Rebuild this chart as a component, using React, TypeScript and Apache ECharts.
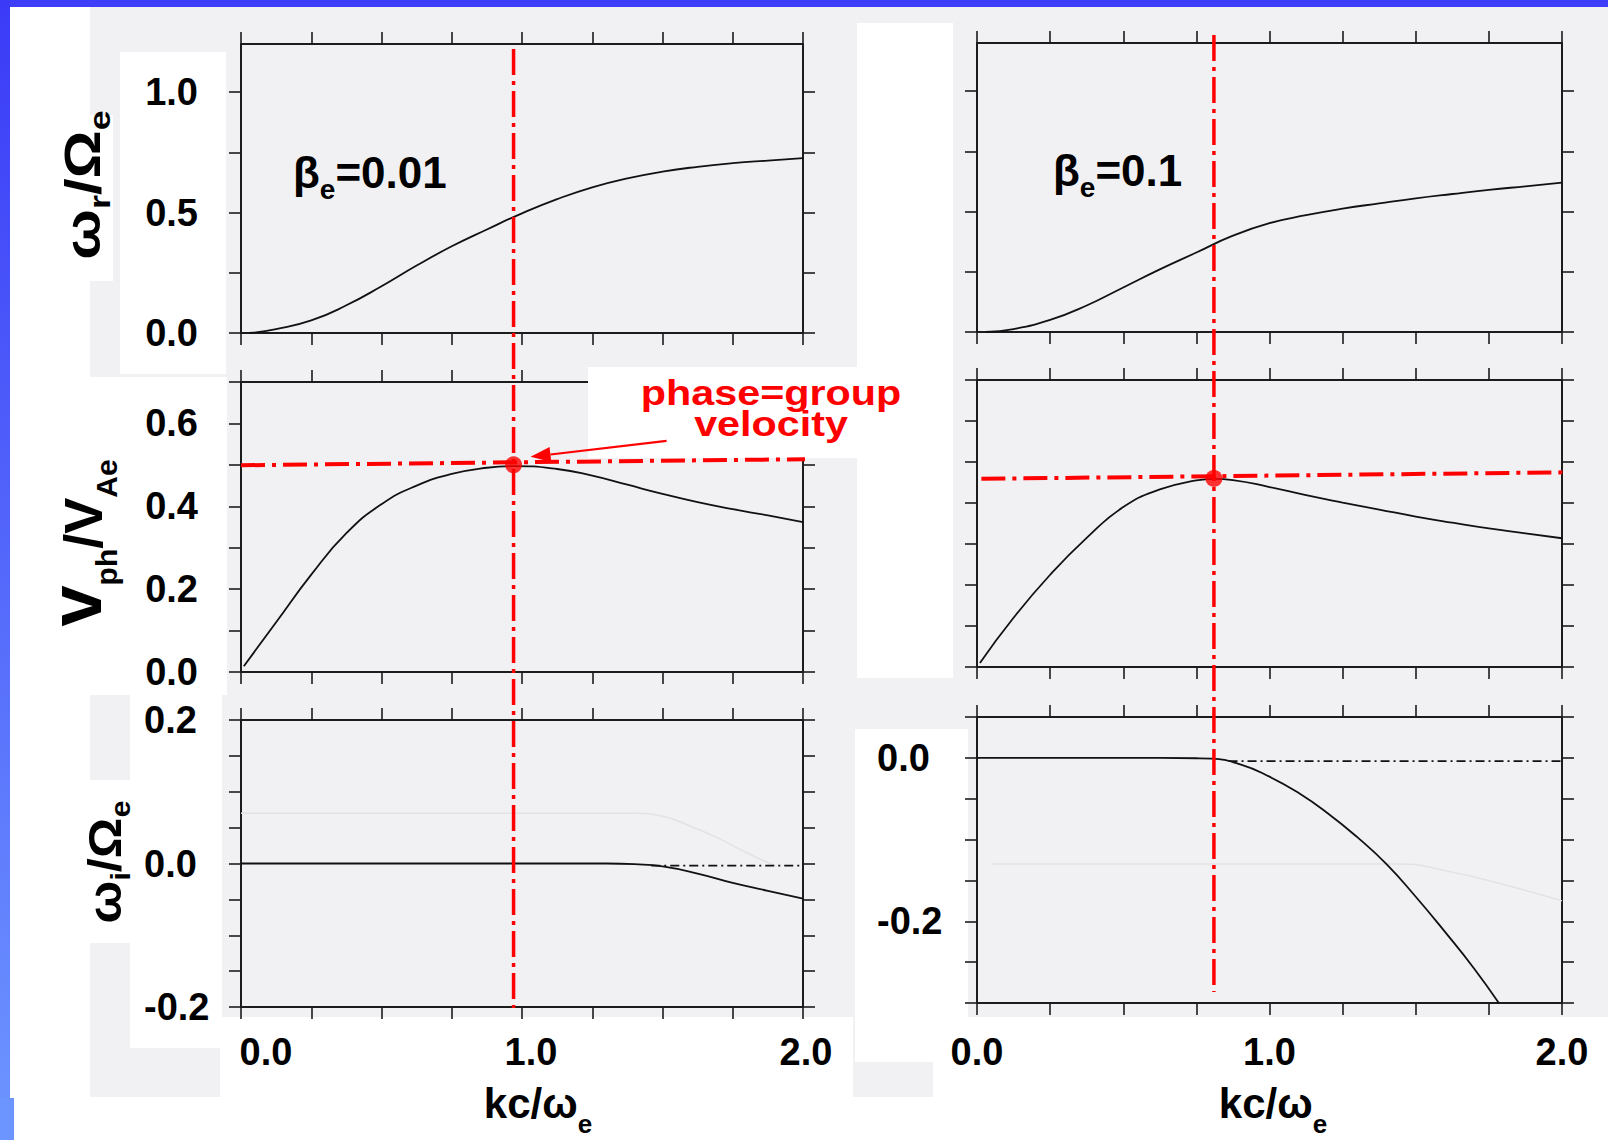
import React, { useEffect, useRef } from "react";
import * as echarts from "echarts";

const FONT = "'Liberation Sans', Arial, Helvetica, sans-serif";

// ---------- data ----------
const xLabelValues = [0, 1, 2];
const yLabelsTop = [0, 0.5, 1.0];
const yLabelsMid = [0, 0.2, 0.4, 0.6];
const yLabelsBotLeft = [-0.2, 0, 0.2];
const yLabelsBotRight = [-0.2, 0];
const ticksTop = [0, 0.25, 0.5, 0.75, 1.0];

const betaLeft = "0.01";
const betaRight = "0.1";

// omega_r / Omega_e
const omegaR_b001: [number, number][] = [
  [0.03, 0], [0.125, 0.016], [0.25, 0.052], [0.375, 0.115], [0.5, 0.194], [0.625, 0.28],
  [0.75, 0.36], [0.875, 0.43], [1.0, 0.497], [1.125, 0.556], [1.25, 0.605], [1.375, 0.642],
  [1.5, 0.67], [1.625, 0.69], [1.75, 0.705], [1.875, 0.716], [2.0, 0.726],
];
const omegaR_b01: [number, number][] = [
  [0.03, 0], [0.125, 0.012], [0.25, 0.05], [0.375, 0.11], [0.5, 0.185], [0.625, 0.26],
  [0.75, 0.33], [0.875, 0.4], [1.0, 0.452], [1.125, 0.485], [1.25, 0.512], [1.375, 0.534],
  [1.5, 0.555], [1.625, 0.573], [1.75, 0.59], [1.875, 0.605], [2.0, 0.62],
];
// v_ph / V_Ae
const vph_b001: [number, number][] = [
  [0.01, 0.014], [0.125, 0.12], [0.25, 0.235], [0.375, 0.335], [0.5, 0.405], [0.625, 0.45],
  [0.75, 0.478], [0.875, 0.493], [0.97, 0.497], [1.125, 0.49], [1.25, 0.474], [1.375, 0.452],
  [1.5, 0.43], [1.625, 0.41], [1.75, 0.393], [1.875, 0.378], [2.0, 0.362],
];
const vph_b01: [number, number][] = [
  [0.01, 0.01], [0.125, 0.12], [0.25, 0.225], [0.375, 0.315], [0.5, 0.39], [0.625, 0.433],
  [0.75, 0.455], [0.81, 0.459], [0.875, 0.456], [1.0, 0.439], [1.125, 0.419], [1.25, 0.401],
  [1.375, 0.384], [1.5, 0.367], [1.625, 0.352], [1.75, 0.338], [1.875, 0.326], [2.0, 0.314],
];
// omega_i / Omega_e
const omegaI_b001: [number, number][] = [
  [0, 0], [0.5, 0], [1.0, 0], [1.3, 0], [1.4, -0.001], [1.5, -0.004], [1.625, -0.014],
  [1.75, -0.027], [1.875, -0.038], [2.0, -0.049],
];
const omegaI_b01: [number, number][] = [
  [0, 0], [0.5, 0], [0.75, -0.0005], [0.8, -0.001], [0.9, -0.008], [1.0, -0.023], [1.1, -0.043],
  [1.2, -0.068], [1.3, -0.097], [1.4, -0.13], [1.5, -0.17], [1.6, -0.213], [1.7, -0.258], [1.784, -0.3],
];
const omegaIDash_b001: [number, number][] = [[1.46, -0.003], [2.0, -0.003]];
const omegaIDash_b01: [number, number][] = [[0.86, -0.004], [2.0, -0.004]];
const faint_b001: [number, number][] = [
  [0, 0.07], [1.4, 0.07], [1.5, 0.066], [1.6, 0.052], [1.7, 0.035], [1.8, 0.015], [1.9, -0.003],
];
const faint_b01: [number, number][] = [
  [0.05, -0.13], [1.45, -0.13], [1.6, -0.138], [1.8, -0.155], [2.0, -0.175],
];
// phase = group velocity points
const matchLeft: [number, number] = [0.97, 0.5];
const matchRight: [number, number] = [0.81, 0.46];
const guideLeft: [number, number][] = [[0, 0.499], [2.19, 0.515]];
const guideRight: [number, number][] = [[0.015, 0.459], [2.03, 0.475]];

// ---------- layout ----------
const AX = "#1c1c1c";
const RED = "#ff0000";
const GRAY = "#f1f1f4";

type Panel = {
  grid: { left: number; top: number; width: number; height: number };
  y: { min: number; max: number; interval: number; ticks?: number[] };
  yLabels?: number[];
  yAlign?: string;
  yMargin?: number;
  yPad?: number[];
  xLabels?: boolean;
  xMargin?: number;
  xShift?: boolean;
};

const panels: Panel[] = [
  { grid: { left: 241, top: 44, width: 562, height: 289 }, y: { min: 0, max: 1.2, interval: 0.25, ticks: ticksTop }, yLabels: yLabelsTop, yAlign: "right", yMargin: 43, yPad: [12, 0, 0, 0] },
  { grid: { left: 241, top: 382, width: 562, height: 290 }, y: { min: 0, max: 0.7, interval: 0.1 }, yLabels: yLabelsMid, yAlign: "right", yMargin: 43, yPad: [14, 0, 0, 0] },
  { grid: { left: 241, top: 720, width: 562, height: 287 }, y: { min: -0.2, max: 0.2, interval: 0.05 }, yLabels: yLabelsBotLeft, yAlign: "left", yMargin: 97, yPad: [8, 0, 0, 0], xLabels: true, xMargin: 26, xShift: true },
  { grid: { left: 977, top: 43, width: 585, height: 289 }, y: { min: 0, max: 1.2, interval: 0.25, ticks: ticksTop } },
  { grid: { left: 977, top: 380, width: 585, height: 287 }, y: { min: 0, max: 0.7, interval: 0.1 } },
  { grid: { left: 977, top: 717, width: 585, height: 286 }, y: { min: -0.3, max: 0.05, interval: 0.05 }, yLabels: yLabelsBotRight, yAlign: "left", yMargin: 100, yPad: [0, 0, 0, 0], xLabels: true, xMargin: 30 },
];

const fmt = (v: number) => (Math.abs(v) < 1e-9 ? "0.0" : v.toFixed(1));

function buildOption() {
  const tick = { show: true, inside: false, length: 12, lineStyle: { color: AX, width: 1.6 } };
  const line = { show: true, onZero: false, lineStyle: { color: AX, width: 2 } };
  const labelFont = { fontSize: 38, fontWeight: "bold", fontFamily: FONT, color: "#000" };
  const shiftRich = {
    a: { ...labelFont, padding: [0, 0, 0, 50] },
    b: { ...labelFont, padding: [0, 0, 0, 18] },
    c: { ...labelFont, padding: [0, 0, 0, 6] },
  };
  const shiftFmt = (v: number) => {
    const key = v < 0.5 ? "a" : v < 1.5 ? "b" : "c";
    return `{${key}|${fmt(v)}}`;
  };
  const xAxis: any[] = [];
  const yAxis: any[] = [];
  panels.forEach((p, i) => {
    xAxis.push({
      type: "value", gridIndex: i, position: "bottom", min: 0, max: 2, interval: 0.25,
      axisLine: line, axisTick: tick, splitLine: { show: false },
      axisLabel: p.xLabels
        ? p.xShift
          ? { show: true, customValues: xLabelValues, formatter: shiftFmt, rich: shiftRich, margin: p.xMargin, ...labelFont }
          : { show: true, customValues: xLabelValues, formatter: fmt, margin: p.xMargin, ...labelFont }
        : { show: false },
    });
    xAxis.push({
      type: "value", gridIndex: i, position: "top", min: 0, max: 2, interval: 0.25,
      axisLine: line, axisTick: tick, splitLine: { show: false }, axisLabel: { show: false },
    });
    const yTick: any = { ...tick };
    if (p.y.ticks) yTick.customValues = p.y.ticks;
    yAxis.push({
      type: "value", gridIndex: i, position: "left", min: p.y.min, max: p.y.max, interval: p.y.interval,
      axisLine: line, axisTick: yTick, splitLine: { show: false },
      axisLabel: p.yLabels
        ? { show: true, customValues: p.yLabels, formatter: fmt, align: p.yAlign, margin: p.yMargin, padding: p.yPad, ...labelFont }
        : { show: false },
    });
    yAxis.push({
      type: "value", gridIndex: i, position: "right", min: p.y.min, max: p.y.max, interval: p.y.interval,
      axisLine: line, axisTick: yTick, splitLine: { show: false }, axisLabel: { show: false },
    });
  });

  const curve = (i: number, data: any, extra: any = {}) => ({
    type: "line", xAxisIndex: 2 * i, yAxisIndex: 2 * i, data, smooth: 0.5,
    symbol: "none", silent: true, z: 2, lineStyle: { color: "#111", width: 1.8 }, ...extra,
  });
  const faint = { lineStyle: { color: "#e2e2e6", width: 1.5 }, z: 1 };
  const dashBlack = { smooth: false, lineStyle: { color: "#111", width: 1.6, type: [9, 4, 2, 4] } };
  const guide = { smooth: false, clip: false, z: 3, lineStyle: { color: RED, width: 4, type: [24, 7, 4, 7] } };

  const series: any[] = [
    curve(0, omegaR_b001),
    curve(1, vph_b001),
    curve(2, faint_b001, faint),
    curve(2, omegaI_b001),
    curve(2, omegaIDash_b001, dashBlack),
    curve(3, omegaR_b01),
    curve(4, vph_b01),
    curve(5, faint_b01, faint),
    curve(5, omegaI_b01),
    curve(5, omegaIDash_b01, dashBlack),
    curve(1, guideLeft, guide),
    curve(4, guideRight, guide),
    { type: "scatter", xAxisIndex: 2, yAxisIndex: 2, data: [matchLeft], symbolSize: 17, itemStyle: { color: RED }, silent: true, z: 4 },
    { type: "scatter", xAxisIndex: 8, yAxisIndex: 8, data: [matchRight], symbolSize: 17, itemStyle: { color: RED }, silent: true, z: 4 },
  ];

  return {
    animation: false,
    backgroundColor: "#ffffff",
    grid: panels.map((p) => ({ ...p.grid, containLabel: false })),
    xAxis,
    yAxis,
    series,
  };
}

const M = (fs: number, pb: number) => ({ fontSize: fs, fontWeight: "bold", fontFamily: FONT, verticalAlign: "bottom", padding: [0, 0, pb, 0] });
const S = (fs: number) => ({ fontSize: fs, fontWeight: "bold", fontFamily: FONT, verticalAlign: "bottom" });

function buildGraphic(chart: any) {
  const dotL = chart.convertToPixel({ seriesIndex: 12 }, matchLeft);
  const dotR = chart.convertToPixel({ seriesIndex: 13 }, matchRight);
  const g = panels.map((p) => p.grid);

  const rect = (x: number, y: number, w: number, h: number, fill: any, z: number) => ({
    type: "rect", shape: { x, y, width: w, height: h }, style: { fill }, z, silent: true,
  });

  const tip = [dotL[0] + 17, dotL[1] - 8];
  const tail = [tip[0] + 136, tip[1] - 16];
  const dx = tail[0] - tip[0], dy = tail[1] - tip[1];
  const len = Math.sqrt(dx * dx + dy * dy);
  const ux = dx / len, uy = dy / len;
  const bx = tip[0] + ux * 20, by = tip[1] + uy * 20;
  const head = [[tip[0], tip[1]], [bx - uy * 7.5, by + ux * 7.5], [bx + uy * 7.5, by - ux * 7.5]];

  const redDash = { stroke: RED, lineWidth: 3.5, lineDash: [26, 6, 4, 6] };
  const blue = new echarts.graphic.LinearGradient(0, 0, 0, 1, [
    { offset: 0, color: "#3b3bf7" },
    { offset: 1, color: "#6d95ff" },
  ]);

  const rich1 = (main: number, sub: number, pb: number) => ({ m: M(main, pb), s: S(sub) });

  return [
    // scanned page background
    rect(90, 7, 763, 1090, GRAY, -10),
    rect(853, 7, 755, 1010, GRAY, -10),
    rect(853, 1017, 80, 80, GRAY, -10),
    // white label patches
    rect(120, 52, 106, 322, "#ffffff", -5),
    rect(60, 115, 53, 166, "#ffffff", -5),
    rect(89, 377, 138, 318, "#ffffff", -5),
    rect(130, 695, 92, 353, "#ffffff", -5),
    rect(89, 780, 46, 163, "#ffffff", -5),
    rect(220, 1017, 633, 123, "#ffffff", -5),
    rect(857, 23, 96, 655, "#ffffff", -5),
    rect(855, 729, 113, 333, "#ffffff", -5),
    rect(588, 367, 269, 91, "#ffffff", 1),
    // blue slide frame
    rect(0, 0, 1608, 7, "#3d3dfa", 10),
    rect(0, 0, 10, 1140, blue, 10),
    rect(0, 1098, 14, 42, "#6d95ff", 10),
    // vertical guides
    { type: "line", shape: { x1: dotL[0], y1: g[0].top + 5, x2: dotL[0], y2: g[2].top + g[2].height + 1 }, style: redDash, z: 3, silent: true },
    { type: "line", shape: { x1: dotR[0], y1: g[3].top - 8, x2: dotR[0], y2: g[5].top + g[5].height - 11 }, style: redDash, z: 3, silent: true },
    // arrow
    { type: "line", shape: { x1: tail[0], y1: tail[1], x2: bx, y2: by }, style: { stroke: RED, lineWidth: 2.2 }, z: 3, silent: true },
    { type: "polygon", shape: { points: head }, style: { fill: RED }, z: 3, silent: true },
    // annotation
    { type: "text", x: 771, y: 393, scaleX: 1.18, z: 3, silent: true,
      style: { text: "phase=group", fill: RED, fontSize: 35, fontWeight: "bold", fontFamily: FONT, align: "center", verticalAlign: "middle" } },
    { type: "text", x: 771, y: 424, scaleX: 1.18, z: 3, silent: true,
      style: { text: "velocity", fill: RED, fontSize: 35, fontWeight: "bold", fontFamily: FONT, align: "center", verticalAlign: "middle" } },
    // beta labels
    { type: "text", x: 293, y: 150, z: 3, silent: true,
      style: { text: `{m|β}{s|e}{m|=${betaLeft}}`, fill: "#000", align: "left", verticalAlign: "top", rich: rich1(44, 28, 9) } },
    { type: "text", x: 1053, y: 148, z: 3, silent: true,
      style: { text: `{m|β}{s|e}{m|=${betaRight}}`, fill: "#000", align: "left", verticalAlign: "top", rich: rich1(44, 28, 9) } },
    // x axis titles
    { type: "text", x: 538, y: 1082, z: 3, silent: true,
      style: { text: "{m|kc/ω}{s|e}", fill: "#000", align: "center", verticalAlign: "top", rich: rich1(42, 26, 13) } },
    { type: "text", x: 1273, y: 1082, z: 3, silent: true,
      style: { text: "{m|kc/ω}{s|e}", fill: "#000", align: "center", verticalAlign: "top", rich: rich1(42, 26, 13) } },
    // y axis titles (rotated)
    { type: "text", x: 86, y: 185, rotation: Math.PI / 2, scaleX: 1.2, z: 3, silent: true,
      style: { text: "{m|ω}{s|r}{m|/Ω}{s|e}", fill: "#000", align: "center", verticalAlign: "middle", rich: rich1(50, 30, 7) } },
    { type: "text", x: 80, y: 543, rotation: Math.PI / 2, z: 3, silent: true,
      style: { text: "{v|v}{s|ph}{m|/V}{s|Ae}", fill: "#000", align: "center", verticalAlign: "middle",
        rich: { v: M(74, 9), m: M(54, 12), s: S(30) } } },
    { type: "text", x: 108, y: 862, rotation: Math.PI / 2, scaleX: 1.1, z: 3, silent: true,
      style: { text: "{m|ω}{s|i}{m|/Ω}{s|e}", fill: "#000", align: "center", verticalAlign: "middle", rich: rich1(46, 28, 7) } },
  ];
}

export default function App() {
  const ref = useRef<HTMLDivElement>(null);
  useEffect(() => {
    if (!ref.current) return;
    const chart = echarts.init(ref.current, undefined, { renderer: "svg" });
    chart.setOption(buildOption() as any);
    chart.setOption({ graphic: { elements: buildGraphic(chart) } } as any);
    return () => chart.dispose();
  }, []);
  return (
    <div
      ref={ref}
      style={{ position: "absolute", left: 0, top: 0, width: 1608, height: 1140 }}
    />
  );
}
